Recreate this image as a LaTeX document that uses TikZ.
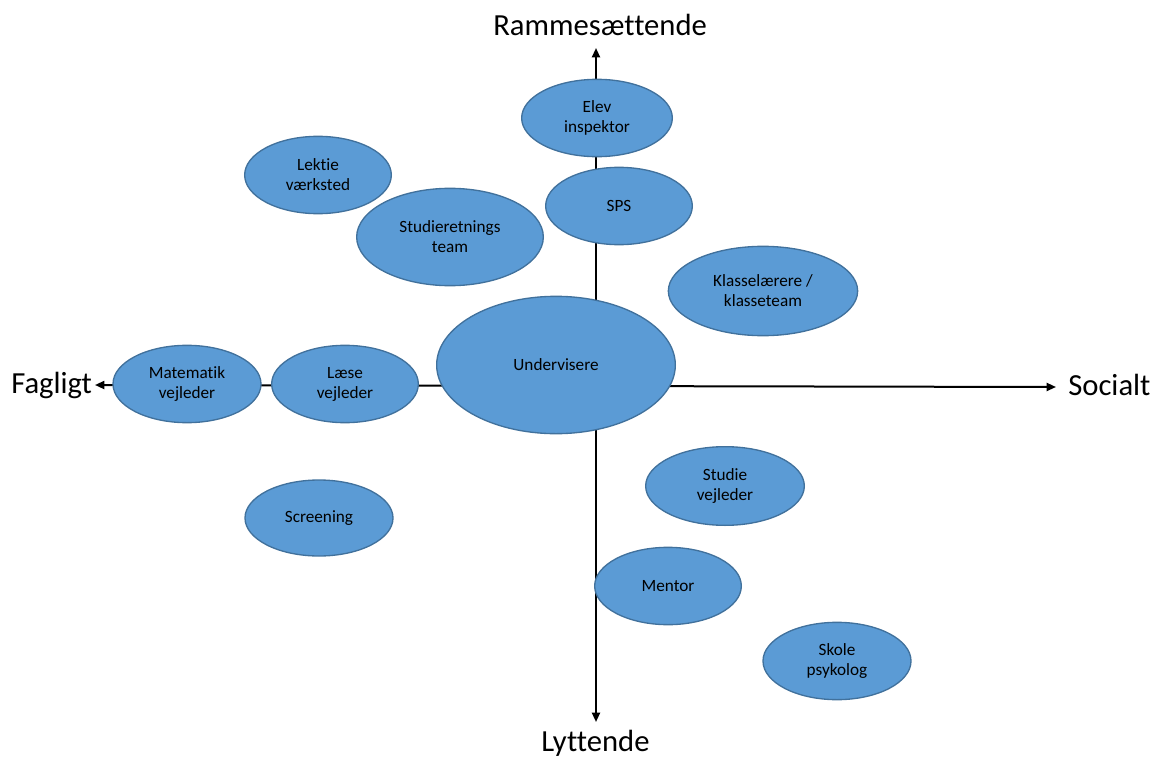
\documentclass[tikz,border=0pt]{standalone}
\usepackage{fontspec}
\setmainfont{Carlito}[Ligatures={NoCommon}]
\usetikzlibrary{positioning, shapes.geometric, arrows.meta}
\definecolor{rolle}{HTML}{5B9BD5}
\definecolor{rollekant}{HTML}{41719C}

\begin{document}
\begin{tikzpicture}[x=0.75pt, y=-0.75pt,
    rolle/.style={ellipse, draw=rollekant, fill=rolle, line width=1pt, inner sep=0pt, align=center, font=\fontsize{12.9}{15}\selectfont},
    akse/.style={line width=1.5pt, {Triangle[length=7pt, width=6pt]}-{Triangle[length=7pt, width=6pt]}},
    akselabel/.style={inner sep=0pt, font=\fontsize{23}{27}\selectfont}]

\useasboundingbox (0,0) rectangle (1154,760);

% axis labels
\node[akselabel, anchor=base west] (ramme) at (493,36) {Rammesættende};
\node[akselabel, anchor=base west] (lyttende) at (541,751) {Lyttende};
\node[akselabel, anchor=base west] (fagligt) at (11,393) {Fagligt};
\node[akselabel, anchor=base west] (socialt) at (1068,395) {Socialt};

\coordinate (top) at (596,48);
\coordinate (bund) at (596,722);
\coordinate (venstre) at (95,385);
\coordinate (hoejre) at (1056,387);

    \draw[akse] (bund) -- (top);
    \draw[akse] (venstre) -- (hoejre);

% roles
\node[rolle, minimum width=113pt, minimum height=58pt] (elev) at (597,118) {Elev\\inspektor};
\node[rolle, minimum width=110pt, minimum height=58pt] (lektie) at (318,175) {Lektie\\værksted};
\node[rolle, minimum width=110pt, minimum height=58pt] (sps) at (619,206) {SPS};
\node[rolle, minimum width=140pt, minimum height=73pt] (studieretning) at (450,237) {Studieretnings\\team};
\node[rolle, minimum width=142pt, minimum height=67pt] (klasse) at (763,291) {Klasselærere /\\klasseteam};
\node[rolle, minimum width=179pt, minimum height=103pt] (undervisere) at (556,365) {Undervisere};
\node[rolle, minimum width=111pt, minimum height=58pt] (matematik) at (187,384) {Matematik\\vejleder};
\node[rolle, minimum width=110pt, minimum height=58pt] (laese) at (345,384) {Læse\\vejleder};
\node[rolle, minimum width=119pt, minimum height=59pt] (studie) at (725,486) {Studie\\vejleder};
\node[rolle, minimum width=111pt, minimum height=57pt] (screening) at (319,518) {Screening};
\node[rolle, minimum width=110pt, minimum height=58pt] (mentor) at (668,586) {Mentor};
\node[rolle, minimum width=111pt, minimum height=58pt] (skole) at (837,661) {Skole\\psykolog};

\end{tikzpicture}
\end{document}
